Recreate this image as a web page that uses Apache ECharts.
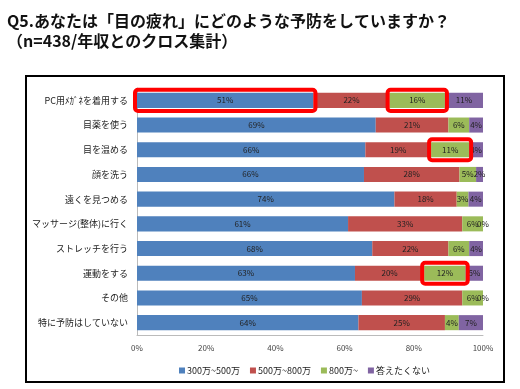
<!DOCTYPE html>
<html>
<head>
<meta charset="utf-8">
<script src="https://cdn.jsdelivr.net/npm/echarts@6/dist/echarts.min.js"></script>
<style>
html,body{margin:0;padding:0;background:#fff;}
#chart{width:520px;height:389px;}
</style>
</head>
<body>
<div id="chart"></div>
<script>
// ---- data ----
const categories = [
  'PC用ﾒｶﾞﾈを着用する',
  '目薬を使う',
  '目を温める',
  '顔を洗う',
  '遠くを見つめる',
  'マッサージ(整体)に行く',
  'ストレッチを行う',
  '運動をする',
  'その他',
  '特に予防はしていない'
];
const seriesNames = ['300万~500万', '500万~800万', '800万~', '答えたくない'];
const income300_500 = [51, 69, 66, 65.6, 74.4, 61, 68, 63, 65, 64];
const income500_800 = [22, 21, 19, 27.6, 18.0, 33, 22, 20, 29, 25];
const income800 = [16, 6, 11, 4.8, 3.4, 6, 6, 12, 6, 4];
const noAnswer = [11, 4, 4, 2.0, 4.2, 0, 4, 5, 0, 7];
const xTicks = [0, 20, 40, 60, 80, 100];
// highlighted segments: [category index, series index]
const highlights = [[0, 0], [0, 2], [2, 2], [7, 2]];

const colors = ['#4F81BD', '#C0504D', '#9BBB59', '#8064A2'];
const allValues = [income300_500, income500_800, income800, noAnswer];
const FONT = '"Noto Sans CJK JP", "Noto Sans", sans-serif';

const chart = echarts.init(document.getElementById('chart'), null, {renderer: 'canvas'});

const barSeries = allValues.map((vals, i) => ({
  name: seriesNames[i],
  type: 'bar',
  stack: 'total',
  barCategoryGap: '39%',
  data: vals,
  itemStyle: {color: colors[i]},
  label: {
    show: true,
    position: 'inside',
    fontSize: 8,
    fontFamily: FONT,
    color: '#222',
    formatter: p => Math.round(p.value) + '%'
  },
  emphasis: {disabled: true},
  animation: false
}));

const boxSeries = {
  type: 'custom',
  z: 10,
  silent: true,
  animation: false,
  encode: {x: 1, y: 0},
  data: highlights.map(h => [h[1], h[0]]),
  renderItem: function (params, api) {
    const catIdx = api.value(1);
    const serIdx = api.value(0);
    let start = 0;
    for (let s = 0; s < serIdx; s++) start += allValues[s][catIdx];
    const end = start + allValues[serIdx][catIdx];
    const p0 = api.coord([start, catIdx]);
    const p1 = api.coord([end, catIdx]);
    const band = api.size([0, 1])[1];
    const h = band * 0.61;
    const padX = 2, padY = 3;
    return {
      type: 'rect',
      shape: {
        x: p0[0] - padX,
        y: p0[1] - h / 2 - padY,
        width: p1[0] - p0[0] + padX * 2,
        height: h + padY * 2,
        r: 3
      },
      style: {fill: null, stroke: '#FF0000', lineWidth: 4}
    };
  }
};

chart.setOption({
  animation: false,
  backgroundColor: '#fff',
  title: {
    text: 'Q5.あなたは「目の疲れ」にどのような予防をしていますか？\n（n=438/年収とのクロス集計）',
    left: 2,
    top: 6,
    textStyle: {fontFamily: FONT, fontSize: 16, fontWeight: 'bold', color: '#111', lineHeight: 20}
  },
  graphic: [{
    type: 'rect',
    shape: {x: 26, y: 76, width: 478, height: 306},
    style: {fill: null, stroke: '#000', lineWidth: 2},
    z: -1
  }],
  legend: {
    data: seriesNames,
    left: 174,
    top: 361,
    icon: 'rect',
    itemWidth: 6,
    itemHeight: 6,
    itemGap: 10,
    textStyle: {fontFamily: FONT, fontSize: 9, color: '#222', padding: [0, 0, 0, -3]}
  },
  grid: {left: 137, right: 37, top: 88, bottom: 54, containLabel: false},
  xAxis: {
    type: 'value',
    min: 0,
    max: 100,
    interval: 20,
    axisLabel: {
      fontFamily: FONT, fontSize: 8, color: '#444', margin: 9,
      formatter: v => (xTicks.indexOf(v) >= 0 ? v + '%' : '')
    },
    axisLine: {show: true, lineStyle: {color: '#bbb'}},
    axisTick: {show: false},
    splitLine: {show: false}
  },
  yAxis: {
    type: 'category',
    data: categories,
    inverse: true,
    axisLabel: {fontFamily: FONT, fontSize: 9, color: '#222', margin: 9},
    axisLine: {show: true, lineStyle: {color: '#bbb'}},
    axisTick: {show: false}
  },
  series: barSeries.concat([boxSeries])
});
</script>
</body>
</html>
